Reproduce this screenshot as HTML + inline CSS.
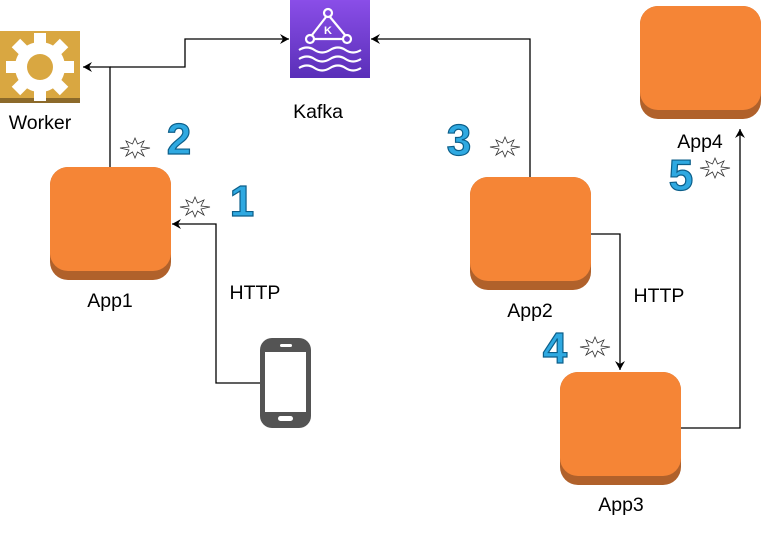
<!DOCTYPE html>
<html><head><meta charset="utf-8"><style>
body{margin:0;background:#fff;width:761px;height:539px;overflow:hidden}
svg{display:block}
text{font-family:"Liberation Sans",Helvetica,Arial,sans-serif}
.lbl{font-size:19.5px;fill:#000;text-anchor:middle}
.num{font-size:44px;font-weight:bold;fill:#2fa9e1;stroke:#0c5f8a;stroke-width:1.2;text-anchor:middle}
.ln{fill:none;stroke:#000;stroke-width:1.3}
</style></head><body>
<svg width="761" height="539" viewBox="0 0 761 539" xmlns="http://www.w3.org/2000/svg">
<defs>
<g id="app">
<rect x="0" y="0" width="121" height="113" rx="18" fill="#b0612b"/>
<rect x="0" y="0" width="121" height="104" rx="18" fill="#f58536"/>
</g>
<polygon id="star" points="15,0 17.5,6 24,3 21,9 30,10 21,12 24,18 17.5,14 15,20 12.5,14 6,18 9,12 0,10 9,9 6,3 12.5,6" fill="#fff" stroke="#333" stroke-width="0.8"/>
<marker id="ar" markerWidth="10" markerHeight="10" refX="9" refY="5" orient="auto" markerUnits="userSpaceOnUse"><path d="M0,0 L9,5 L0,10 L3,5 z" fill="#000"/></marker>
</defs>

<path class="ln" d="M110,167 V67 H83" marker-end="url(#ar)"/>
<path class="ln" d="M110,67 H185 V39 H289" marker-end="url(#ar)"/>
<path class="ln" d="M260,383 H216 V224 H172" marker-end="url(#ar)"/>
<path class="ln" d="M530,177 V39 H371" marker-end="url(#ar)"/>
<path class="ln" d="M591,234 H620 V370" marker-end="url(#ar)"/>
<path class="ln" d="M681,428 H740 V129" marker-end="url(#ar)"/>

<!-- Worker -->
<rect x="0" y="31" width="80" height="72" fill="#d9a741"/>
<rect x="0" y="98" width="80" height="5" fill="#8c6a2a"/>
<g transform="translate(40,67)" fill="#fff">
<circle r="25"/>
<g><rect x="-6" y="-34" width="12" height="12"/><rect x="-6" y="22" width="12" height="12"/><rect x="-34" y="-6" width="12" height="12"/><rect x="22" y="-6" width="12" height="12"/></g>
<g transform="rotate(45)"><rect x="-6" y="-34" width="12" height="12"/><rect x="-6" y="22" width="12" height="12"/><rect x="-34" y="-6" width="12" height="12"/><rect x="22" y="-6" width="12" height="12"/></g>
<circle r="13" fill="#d9a741"/>
</g>
<text class="lbl" x="40" y="129">Worker</text>

<!-- Kafka -->
<defs><linearGradient id="kg" x1="0" y1="0" x2="0" y2="1"><stop offset="0" stop-color="#8a4ee8"/><stop offset="1" stop-color="#5a2fb8"/></linearGradient></defs>
<rect x="290" y="0" width="80" height="78" fill="url(#kg)"/>
<g fill="none" stroke="#fff" stroke-width="2.2">
<circle cx="328" cy="13" r="4"/><circle cx="310" cy="39" r="4"/><circle cx="347" cy="39" r="4"/>
<path d="M326,17 L312,35 M330,17 L345,35 M314,39 H343"/>
<path d="M299,50 q8,-5 15.5,0 t15.5,0 t15.5,0 t15.5,0"/>
<path d="M299,59 q8,-5 15.5,0 t15.5,0 t15.5,0 t15.5,0"/>
<path d="M299,68 q8,-5 15.5,0 t15.5,0 t15.5,0 t15.5,0"/>
</g>
<text x="328" y="34" fill="#fff" font-size="11" font-weight="bold" text-anchor="middle">K</text>
<text class="lbl" x="318" y="118">Kafka</text>

<use href="#app" x="50" y="167"/>
<text class="lbl" x="110" y="307">App1</text>
<use href="#app" x="470" y="177"/>
<text class="lbl" x="530" y="317">App2</text>
<use href="#app" x="560" y="372"/>
<text class="lbl" x="621" y="511">App3</text>
<use href="#app" x="640" y="6"/>
<text class="lbl" x="700" y="148">App4</text>

<text class="lbl" x="255" y="299">HTTP</text>
<text class="lbl" x="659" y="302">HTTP</text>

<!-- Phone -->
<rect x="260" y="338" width="51" height="90" rx="12" fill="#545454"/>
<rect x="265" y="352" width="41" height="60" fill="#fff"/>
<rect x="280" y="344" width="12" height="3" rx="1.5" fill="#fff"/>
<rect x="278" y="416" width="15" height="5" rx="2.5" fill="#fff"/>

<use href="#star" x="120" y="138"/>
<use href="#star" x="180" y="197"/>
<use href="#star" x="490" y="137"/>
<use href="#star" x="580" y="337"/>
<use href="#star" x="700" y="158"/>

<text class="num" x="242" y="216">1</text>
<text class="num" x="179" y="154">2</text>
<text class="num" x="459" y="155">3</text>
<text class="num" x="555" y="363">4</text>
<text class="num" x="681" y="190">5</text>
</svg>
</body></html>
